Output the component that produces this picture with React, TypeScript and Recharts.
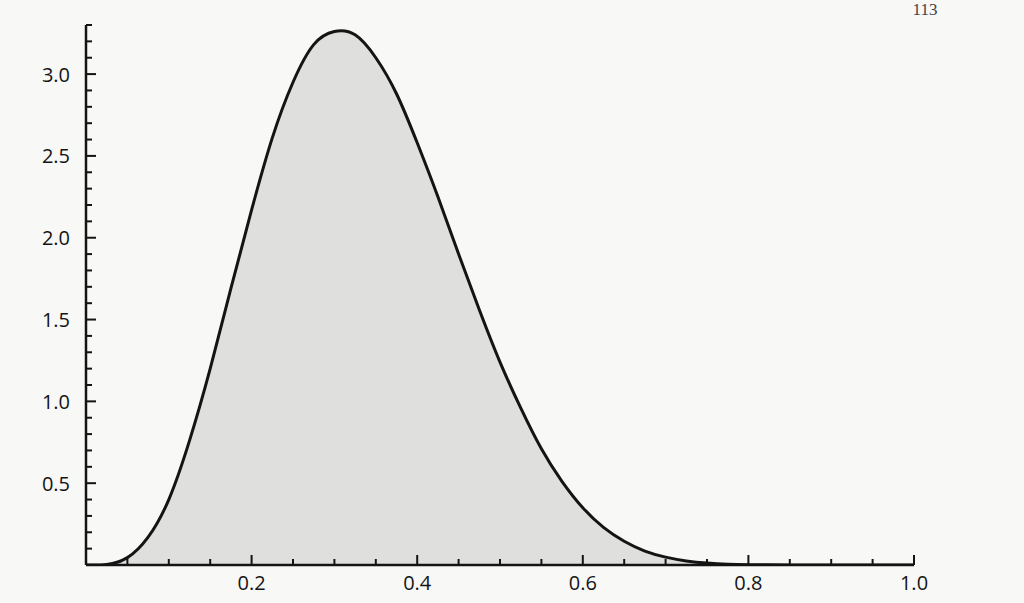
import React from 'react';
import { AreaChart, Area, XAxis, YAxis } from 'recharts';

const xValues = [
  0, 0.025, 0.05, 0.075, 0.1, 0.125, 0.15, 0.175, 0.2, 0.225, 0.25, 0.275, 0.3, 0.325, 0.35,
  0.375, 0.4, 0.425, 0.45, 0.475, 0.5, 0.525, 0.55, 0.575, 0.6, 0.625, 0.65, 0.675, 0.7,
  0.725, 0.75, 0.775, 0.8, 0.825, 0.85, 0.875, 0.9, 0.925, 0.95, 0.975, 1.0,
];
const density = [
  0, 0.003, 0.045, 0.17, 0.4, 0.76, 1.2, 1.69, 2.17, 2.61, 2.95, 3.18, 3.26, 3.24, 3.1,
  2.88, 2.58, 2.25, 1.9, 1.56, 1.24, 0.96, 0.71, 0.51, 0.35, 0.23, 0.145, 0.085, 0.048,
  0.025, 0.012, 0.005, 0.002, 0.0008, 0.0002, 0, 0, 0, 0, 0, 0,
];

const xMajorTicks = [0.2, 0.4, 0.6, 0.8, 1.0];
const xTickLabels = ['0.2', '0.4', '0.6', '0.8', '1.0'];
const xMinorTicks = [0.05, 0.1, 0.15, 0.25, 0.3, 0.35, 0.45, 0.5, 0.55, 0.65, 0.7, 0.75, 0.85, 0.9, 0.95];

const yMajorTicks = [0.5, 1.0, 1.5, 2.0, 2.5, 3.0];
const yTickLabels = ['0.5', '1.0', '1.5', '2.0', '2.5', '3.0'];
const yMinorTicks = [
  0.1, 0.2, 0.3, 0.4, 0.6, 0.7, 0.8, 0.9, 1.1, 1.2, 1.3, 1.4, 1.6, 1.7, 1.8, 1.9,
  2.1, 2.2, 2.3, 2.4, 2.6, 2.7, 2.8, 2.9, 3.1, 3.2, 3.3,
];

const pageNumber = '113';

const data = xValues.map((x, i) => ({ x, y: density[i] }));
const xTicks = [...xMinorTicks, ...xMajorTicks].sort((a, b) => a - b);
const yTicks = [...yMinorTicks, ...yMajorTicks].sort((a, b) => a - b);

const FONT = '"Open Sans", "Noto Sans", sans-serif';
const INK = '#141414';

const findIdx = (arr: number[], v: number) => arr.findIndex((t) => Math.abs(t - v) < 1e-6);

const XTick = (props: any) => {
  const { x, y, payload } = props;
  const idx = findIdx(xMajorTicks, payload.value);
  const major = idx >= 0;
  return (
    <g>
      <line x1={x} y1={y} x2={x} y2={y - (major ? 10 : 6)} stroke={INK} strokeWidth={2} />
      {major && (
        <text x={x} y={y + 17} textAnchor="middle" dominantBaseline="central" fontFamily={FONT} fontSize={20} fill={INK}>
          {xTickLabels[idx]}
        </text>
      )}
    </g>
  );
};

const YTick = (props: any) => {
  const { x, y, payload } = props;
  const idx = findIdx(yMajorTicks, payload.value);
  const major = idx >= 0;
  return (
    <g>
      <line x1={x} y1={y} x2={x + (major ? 10 : 6)} y2={y} stroke={INK} strokeWidth={2} />
      {major && (
        <text x={x - 16} y={y} textAnchor="end" dominantBaseline="central" fontFamily={FONT} fontSize={20} fill={INK}>
          {yTickLabels[idx]}
        </text>
      )}
    </g>
  );
};

export default function App() {
  return (
    <div style={{ position: 'absolute', left: 0, top: 0, width: 1024, height: 603, background: '#f8f8f7', overflow: 'hidden' }}>
      <AreaChart width={1024} height={603} data={data} margin={{ top: 25, right: 110, bottom: 8, left: 0 }}>
        <XAxis
          dataKey="x"
          type="number"
          domain={[0, 1]}
          ticks={xTicks}
          interval={0}
          tickSize={0}
          tickMargin={0}
          tickLine={false}
          tick={XTick}
          height={30}
          axisLine={{ stroke: INK, strokeWidth: 2.5 }}
          allowDataOverflow
        />
        <YAxis
          type="number"
          domain={[0, 3.3]}
          ticks={yTicks}
          interval={0}
          tickSize={0}
          tickMargin={0}
          tickLine={false}
          tick={YTick}
          width={86}
          axisLine={{ stroke: INK, strokeWidth: 2.5 }}
          allowDataOverflow
        />
        <Area
          type="natural"
          dataKey="y"
          stroke={INK}
          strokeWidth={3}
          fill="#dfdfde"
          fillOpacity={1}
          isAnimationActive={false}
          dot={false}
          activeDot={false}
        />
      </AreaChart>
      <svg width={1024} height={603} style={{ position: 'absolute', left: 0, top: 0, pointerEvents: 'none' }}>
        <text x={925} y={15} textAnchor="middle" fontFamily='"Liberation Serif", serif' fontSize={17} fill="#444">
          {pageNumber}
        </text>
      </svg>
    </div>
  );
}
